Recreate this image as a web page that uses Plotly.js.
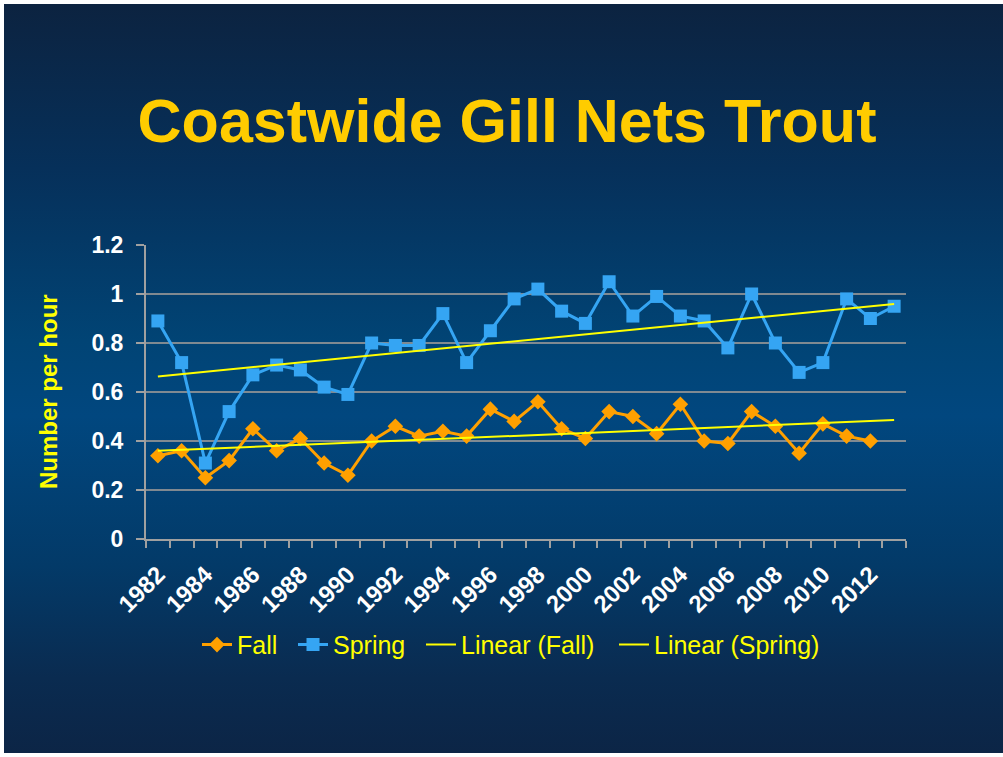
<!DOCTYPE html>
<html>
<head>
<meta charset="utf-8">
<script src="https://cdn.plot.ly/plotly-3.0.1.min.js"></script>
<style>
  html, body { margin: 0; padding: 0; background: #ffffff; width: 1003px; height: 757px; overflow: hidden; }
  #bg { position: absolute; left: 4px; top: 4px; width: 999px; height: 749px;
        background: linear-gradient(to bottom, #0c2340 0%, #06305a 22%, #014475 45%, #01477f 55%, #033a68 75%, #0a2b50 90%, #0c2546 100%); }
  #chart { position: absolute; left: 0; top: 0; width: 1003px; height: 757px; }
</style>
</head>
<body>
<div id="bg"></div>
<div id="chart"></div>
<script>
// ---- data ----
const years = [1982,1983,1984,1985,1986,1987,1988,1989,1990,1991,1992,1993,1994,1995,1996,1997,
               1998,1999,2000,2001,2002,2003,2004,2005,2006,2007,2008,2009,2010,2011,2012,2013];
const fall = [0.34,0.36,0.25,0.32,0.45,0.36,0.41,0.31,0.26,0.40,0.46,0.42,0.44,0.42,0.53,0.48,
              0.56,0.45,0.41,0.52,0.50,0.43,0.55,0.40,0.39,0.52,0.46,0.35,0.47,0.42,0.40,null];
const spring = [0.89,0.72,0.31,0.52,0.67,0.71,0.69,0.62,0.59,0.80,0.79,0.79,0.92,0.72,0.85,0.98,
                1.02,0.93,0.88,1.05,0.91,0.99,0.91,0.89,0.78,1.00,0.80,0.68,0.72,0.98,0.90,0.95];
const tickYears = [1982,1984,1986,1988,1990,1992,1994,1996,1998,2000,2002,2004,2006,2008,2010,2012];
const tickLabels = tickYears.map(String);
const seriesNames = ['Fall','Spring','Linear (Fall)','Linear (Spring)'];

// least-squares trend of a series, evaluated at the first and last year
function trend(xs, ys) {
  const pts = xs.map((x,i)=>[x,ys[i]]).filter(p=>p[1]!==null);
  const n = pts.length;
  const mx = pts.reduce((s,p)=>s+p[0],0)/n, my = pts.reduce((s,p)=>s+p[1],0)/n;
  let sxy=0, sxx=0;
  pts.forEach(p=>{ sxy += (p[0]-mx)*(p[1]-my); sxx += (p[0]-mx)*(p[0]-mx); });
  const b = sxy/sxx, a = my - b*mx;
  const ends = [xs[0], xs[xs.length-1]];
  return {x: ends, y: ends.map(x=>a+b*x)};
}
const tf = trend(years, fall), ts = trend(years, spring);

const FONT = 'Liberation Sans, Arial, sans-serif';
const traces = [
  {x: years, y: fall, name: seriesNames[0], type: 'scatter', mode: 'lines+markers', legend: 'legend',
   line: {color: '#FFA000', width: 3}, marker: {symbol: 'diamond', size: 12, color: '#FFA000'}},
  {x: years, y: spring, name: seriesNames[1], type: 'scatter', mode: 'lines+markers', legend: 'legend2',
   line: {color: '#35A5F3', width: 3}, marker: {symbol: 'square', size: 13, color: '#35A5F3'}},
  {x: tf.x, y: tf.y, name: seriesNames[2], type: 'scatter', mode: 'lines', legend: 'legend3',
   line: {color: '#FFFF00', width: 2}},
  {x: ts.x, y: ts.y, name: seriesNames[3], type: 'scatter', mode: 'lines', legend: 'legend4',
   line: {color: '#FFFF00', width: 2}}
];

function leg(px) {
  return {orientation: 'h', x: (px-146)/760, xanchor: 'left', y: -0.36, yanchor: 'middle',
          font: {family: FONT, size: 25, color: '#FFFF00'}, bgcolor: 'rgba(0,0,0,0)'};
}

const layout = {
  width: 1003, height: 757,
  paper_bgcolor: 'rgba(0,0,0,0)', plot_bgcolor: 'rgba(0,0,0,0)',
  margin: {l: 146, r: 97, t: 245, b: 218, pad: 0},
  showlegend: true,
  title: {text: 'Coastwide Gill Nets Trout', x: 0.5055, xref: 'container', y: 0.84, yref: 'container',
          xanchor: 'center', yanchor: 'middle',
          font: {family: FONT, size: 61, color: '#FFCC00', weight: 'bold'}},
  xaxis: {
    range: [1981.5, 2013.5], tickmode: 'array', tickvals: tickYears, ticktext: tickLabels,
    tickangle: -45, ticks: '', showgrid: false, zeroline: false,
    showline: true, linecolor: '#A0A0A0', linewidth: 2, ticklabelstandoff: 10,
    tickfont: {family: FONT, size: 24, color: '#FFFFFF', weight: 'bold'},
    minor: {tickmode: 'linear', tick0: 1981.5, dtick: 1, ticks: 'outside', ticklen: 7,
            tickcolor: '#A0A0A0', tickwidth: 2, showgrid: false}
  },
  yaxis: {
    range: [0, 1.2], dtick: 0.2, tick0: 0, ticks: 'outside', ticklen: 8, tickcolor: '#A0A0A0', tickwidth: 2,
    showline: true, linecolor: '#A0A0A0', linewidth: 2, zeroline: false,
    showgrid: true, gridcolor: 'rgba(150,150,150,0.85)', gridwidth: 1.5,
    ticklabelstandoff: 8,
    tickfont: {family: FONT, size: 23, color: '#FFFFFF', weight: 'bold'}
  },
  legend: leg(197), legend2: leg(293), legend3: leg(421), legend4: leg(614),
  annotations: [{
    text: 'Number per hour', textangle: -90, xref: 'paper', yref: 'paper',
    x: (48-146)/760, y: (539-391)/294, xanchor: 'center', yanchor: 'middle', showarrow: false,
    font: {family: FONT, size: 24, color: '#FFFF00', weight: 'bold'}
  }]
};

Plotly.newPlot('chart', traces, layout, {displayModeBar: false, staticPlot: true});
</script>
</body>
</html>
